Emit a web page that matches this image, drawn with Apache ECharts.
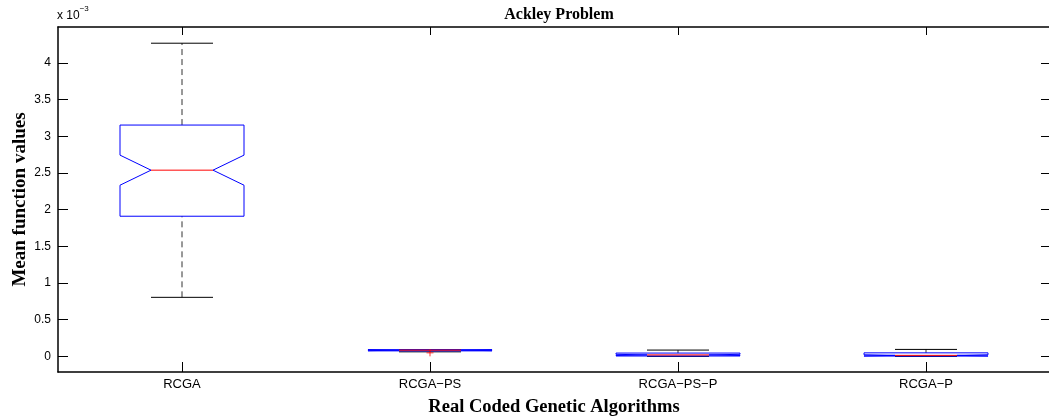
<!DOCTYPE html>
<html>
<head>
<meta charset="utf-8">
<script src="https://cdn.jsdelivr.net/npm/echarts@6/dist/echarts.min.js"></script>
<style>
html,body{margin:0;padding:0;background:#fff;}
#c{width:1049px;height:420px;}
</style>
</head>
<body>
<div id="c"></div>
<script>
// values in units of 1e-3
const categories = ['RCGA', 'RCGA\u2212PS', 'RCGA\u2212PS\u2212P', 'RCGA\u2212P'];
const whiskerLow  = [0.805, 0.062, 0.000, 0.000];
const q1          = [1.911, 0.075, 0.005, 0.004];
const median      = [2.539, 0.085, 0.020, 0.014];
const q3          = [3.154, 0.090, 0.045, 0.048];
const whiskerHigh = [4.270, 0.090, 0.086, 0.095];
const notchLow    = [2.334, 0.078, 0.012, 0.006];
const notchHigh   = [2.744, 0.092, 0.028, 0.022];
const outliers    = [[1, 0.048]];
const yTicks = [0, 0.5, 1, 1.5, 2, 2.5, 3, 3.5, 4];
const yMin = -0.213, yMax = 4.491;

const boxData = categories.map((c, i) => [i, whiskerLow[i], q1[i], median[i], q3[i], whiskerHigh[i], notchLow[i], notchHigh[i]]);

function renderBox(params, api) {
  const i = api.value(0);
  const cx = api.coord([i, 0])[0];
  const band = api.size([1, 0])[0];
  const half = band * 0.25;
  const inner = half * 0.5;
  const capHalf = half * 0.5;
  const Y = v => api.coord([i, v])[1];
  const lo = Y(api.value(1)), b1 = Y(api.value(2)), md = Y(api.value(3)),
        b3 = Y(api.value(4)), hi = Y(api.value(5)), nl = Y(api.value(6)), nh = Y(api.value(7));
  const L = cx - half, R = cx + half;
  const dash = {stroke: '#333', lineWidth: 1, lineDash: [6, 4], fill: null};
  const solid = {stroke: '#000', lineWidth: 1, fill: null};
  return {
    type: 'group',
    children: [
      {type: 'line', shape: {x1: cx, y1: b3, x2: cx, y2: hi}, style: dash},
      {type: 'line', shape: {x1: cx, y1: lo, x2: cx, y2: b1}, style: dash},
      {type: 'line', shape: {x1: cx - capHalf, y1: hi, x2: cx + capHalf, y2: hi}, style: solid},
      {type: 'line', shape: {x1: cx - capHalf, y1: lo, x2: cx + capHalf, y2: lo}, style: solid},
      {type: 'polygon', shape: {points: [
        [L, b1], [L, nl], [cx - inner, md], [L, nh], [L, b3],
        [R, b3], [R, nh], [cx + inner, md], [R, nl], [R, b1]
      ]}, style: {stroke: '#0000ff', lineWidth: 1, fill: null}},
      {type: 'line', shape: {x1: cx - inner, y1: md, x2: cx + inner, y2: md}, style: {stroke: '#ff0000', lineWidth: 1}}
    ]
  };
}

const chart = echarts.init(document.getElementById('c'), null, {renderer: 'canvas'});
const tickStyle = {color: '#000', width: 1};
chart.setOption({
  backgroundColor: '#fff',
  animation: false,
  title: {
    text: 'Ackley Problem', left: 554, top: 2, textAlign: 'center',
    textStyle: {fontFamily: 'Liberation Serif', fontWeight: 'bold', fontSize: 16, color: '#000'}
  },
  graphic: [{
    type: 'text', left: 57, top: 5,
    style: {
      text: '{a|x 10}{b|\u22123}',
      rich: {
        a: {fontFamily: 'Liberation Sans', fontSize: 12, fill: '#000', padding: [5, 0, 0, 0]},
        b: {fontFamily: 'Liberation Sans', fontSize: 8, fill: '#000', verticalAlign: 'top', padding: [0, 0, 8, 0]}
      }
    }
  }],
  grid: {left: 58, right: -1, top: 27, bottom: 48, containLabel: false, outerBoundsMode: 'none'},
  xAxis: [{
    type: 'category', data: categories, position: 'bottom', boundaryGap: true,
    axisLine: {show: true, onZero: false, lineStyle: {color: '#000', width: 1.5}},
    axisTick: {show: true, inside: true, alignWithLabel: true, length: 10, lineStyle: tickStyle},
    axisLabel: {margin: 6, fontFamily: 'Liberation Sans', fontSize: 13, color: '#000'},
    name: 'Real Coded Genetic Algorithms', nameLocation: 'middle', nameGap: 26,
    nameTextStyle: {fontFamily: 'Liberation Serif', fontWeight: 'bold', fontSize: 18.5, color: '#000'},
    splitLine: {show: false}
  }, {
    type: 'category', data: categories, position: 'top', boundaryGap: true,
    axisLine: {show: true, onZero: false, lineStyle: {color: '#000', width: 1.5}},
    axisTick: {show: true, inside: true, alignWithLabel: true, length: 8, lineStyle: tickStyle},
    axisLabel: {show: false}, splitLine: {show: false}
  }],
  yAxis: [{
    type: 'value', min: yMin, max: yMax, position: 'left',
    axisLine: {show: true, onZero: false, lineStyle: {color: '#000', width: 1.5}},
    axisTick: {show: true, inside: true, length: 10, customValues: yTicks, lineStyle: tickStyle},
    axisLabel: {margin: 7, customValues: yTicks, fontFamily: 'Liberation Sans', fontSize: 12, color: '#000'},
    splitLine: {show: false},
    name: 'Mean function values', nameLocation: 'middle', nameGap: 28, nameRotate: 90, nameMoveOverlap: false,
    nameTextStyle: {fontFamily: 'Liberation Serif', fontWeight: 'bold', fontSize: 19, color: '#000'}
  }, {
    type: 'value', min: yMin, max: yMax, position: 'right',
    axisLine: {show: true, onZero: false, lineStyle: {color: '#000', width: 1}},
    axisTick: {show: true, inside: true, length: 9, customValues: yTicks, lineStyle: tickStyle},
    axisLabel: {show: false}, splitLine: {show: false}
  }],
  series: [{
    type: 'custom', xAxisIndex: 0, yAxisIndex: 0,
    renderItem: renderBox, data: boxData,
    encode: {x: 0, y: [1, 2, 3, 4, 5]}, clip: false
  }, {
    type: 'scatter', xAxisIndex: 0, yAxisIndex: 0,
    data: outliers,
    symbol: 'path://M5,0 L5,10 M0,5 L10,5', symbolSize: 7,
    itemStyle: {color: 'none', borderColor: '#ff0000', borderWidth: 1}
  }]
});
</script>
</body>
</html>
